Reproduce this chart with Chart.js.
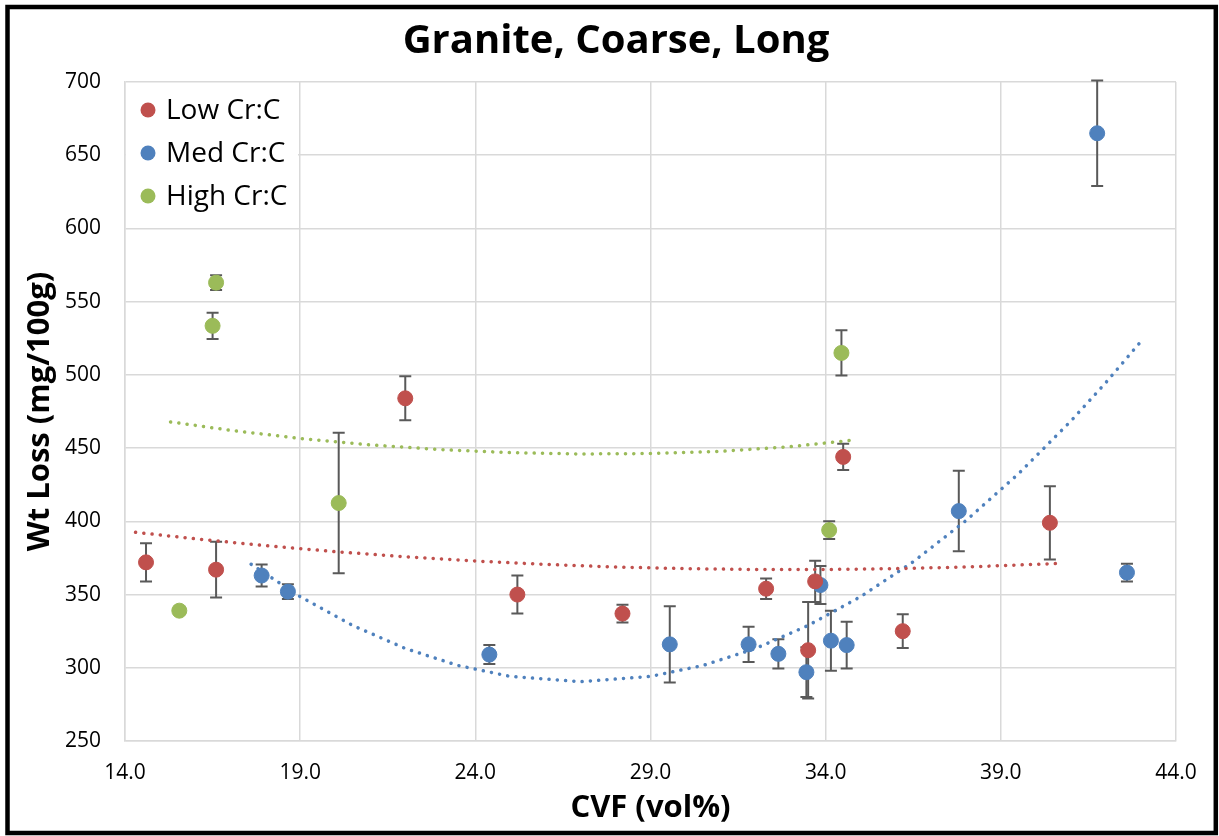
<!DOCTYPE html>
<html>
<head>
<meta charset="utf-8">
<title>Granite, Coarse, Long</title>
<script src="https://cdn.jsdelivr.net/npm/chart.js@4.4.0/dist/chart.umd.min.js"></script>
<style>
  html, body { margin: 0; padding: 0; background: #fff; }
  canvas { display: block; }
</style>
</head>
<body>
<canvas id="grafico" width="1219" height="836"></canvas>
<script>
// series (CVF vol%, wt loss mg/100g, +/- error)
var lowX   = [14.6, 16.6, 22.0, 25.2, 28.2, 32.3, 33.7, 33.5, 34.5, 36.2, 40.4];
var lowY   = [372, 367, 484, 350, 337, 354, 359, 312, 444, 325, 399];
var lowErr = [13, 19, 15, 13, 6, 7, 14, 33, 9, 11.5, 25];

var medX   = [17.9, 18.65, 24.4, 29.55, 31.8, 32.65, 33.45, 33.85, 34.15, 34.6, 37.8, 41.75, 42.6];
var medY   = [363, 352, 309, 316, 316, 309.5, 297, 356.5, 318.5, 315.5, 407, 665, 365];
var medErr = [7.5, 5, 6.5, 26, 12, 10, 17, 13, 20.5, 16, 27.5, 36, 6];

var highX   = [15.55, 16.5, 16.6, 20.1, 34.1, 34.45];
var highY   = [339, 533.5, 563, 412.5, 394, 515];
var highErr = [2, 9, 5, 48, 6, 15.5];

// poly trend lines (points along the curves)
var lowTrendX = [14.3, 16, 18, 20, 22, 24, 26, 28, 30, 32, 34, 36, 38, 40.7];
var lowTrendY = [392.5, 388.1, 383.4, 379.3, 375.8, 372.9, 370.6, 368.8, 367.7, 367.1, 367.1, 367.7, 368.8, 371.3];

var medTrendX = [17.6, 19, 20.5, 22, 23.5, 25, 27, 29, 30.5, 32, 33.5, 35, 36.5, 38, 39.5, 41, 42, 43];
var medTrendY = [370.7, 348.6, 328.9, 313.2, 301.6, 294.1, 290.5, 294.1, 301.6, 313.2, 328.9, 348.6, 372.4, 400.4, 432.4, 468.5, 494.8, 522.9];

var highTrendX = [15.3, 17, 19, 21, 23, 25, 27, 29, 31, 33, 34, 34.8];
var highTrendY = [467.9, 462.2, 456.6, 452.2, 449.0, 446.9, 446.0, 446.3, 447.8, 451.0, 453.5, 455.5];

var xTicks = [14, 19, 24, 29, 34, 39, 44];

var titulo = 'Granite, Coarse, Long';
var nombres = ['Low Cr:C', 'Med Cr:C', 'High Cr:C'];
var colores = ['#C0504D', '#4F81BD', '#9BBB59'];

function puntos(xs, ys){
  var out = [];
  for (var i = 0; i < xs.length; i++) out.push({x: xs[i], y: ys[i]});
  return out;
}

function serie(nombre, color, xs, ys, errs){
  return {
    label: nombre,
    data: puntos(xs, ys),
    errores: errs,
    backgroundColor: color,
    borderColor: color,
    borderWidth: 1,
    pointRadius: 7.5,
    showLine: false,
    order: 1
  };
}

function tendencia(color, xs, ys){
  return {
    label: '',
    data: puntos(xs, ys),
    showLine: true,
    borderColor: color,
    borderWidth: 3.5,
    borderDash: [0.1, 8.2],
    borderCapStyle: 'round',
    pointRadius: 0,
    fill: false,
    order: 0
  };
}

// vertical error bars with caps, under the markers
var barrasError = {
  id: 'barrasError',
  beforeDatasetsDraw: function(chart){
    var ctx = chart.ctx, sx = chart.scales.x, sy = chart.scales.y;
    ctx.save();
    ctx.strokeStyle = '#595959';
    ctx.lineWidth = 2;
    chart.data.datasets.forEach(function(ds){
      if (!ds.errores) return;
      ds.data.forEach(function(p, i){
        var px = sx.getPixelForValue(p.x);
        var y1 = sy.getPixelForValue(p.y + ds.errores[i]);
        var y2 = sy.getPixelForValue(p.y - ds.errores[i]);
        ctx.beginPath();
        ctx.moveTo(px, y1); ctx.lineTo(px, y2);
        ctx.moveTo(px - 6, y1); ctx.lineTo(px + 6, y1);
        ctx.moveTo(px - 6, y2); ctx.lineTo(px + 6, y2);
        ctx.stroke();
      });
    });
    ctx.restore();
  }
};

// legend box in the top-left corner of the plot
var leyenda = {
  id: 'leyenda',
  afterDatasetsDraw: function(chart){
    var ctx = chart.ctx, a = chart.chartArea;
    ctx.save();
    ctx.fillStyle = '#fff';
    ctx.fillRect(a.left + 1, a.top + 1, 172, 143);
    ctx.font = "28px 'Open Sans'";
    ctx.textBaseline = 'middle';
    for (var i = 0; i < nombres.length; i++){
      var cy = a.top + 28 + i * 43;
      ctx.fillStyle = colores[i];
      ctx.beginPath();
      ctx.arc(a.left + 23, cy, 7.5, 0, Math.PI * 2);
      ctx.fill();
      ctx.fillStyle = '#000';
      ctx.fillText(nombres[i], a.left + 41, cy + 1);
    }
    ctx.restore();
  }
};

// white background, title and the black outer frame
var marco = {
  id: 'marco',
  beforeDraw: function(chart){
    var ctx = chart.ctx;
    ctx.save();
    ctx.fillStyle = '#fff';
    ctx.fillRect(0, 0, chart.width, chart.height);
    ctx.restore();
  },
  afterDraw: function(chart){
    var ctx = chart.ctx;
    ctx.save();
    ctx.fillStyle = '#000';
    ctx.font = "bold 40px 'Open Sans'";
    ctx.textAlign = 'center';
    ctx.textBaseline = 'middle';
    ctx.fillText(titulo, 616, 42);
    ctx.strokeStyle = '#000';
    ctx.lineWidth = 4.5;
    ctx.strokeRect(7.5, 7, 1208.3, 826);
    ctx.restore();
  }
};

Chart.defaults.font.family = "'Open Sans', sans-serif";
Chart.defaults.color = '#000';

var ctx = document.getElementById('grafico');
var grafico = new Chart(ctx, {
  type: 'scatter',
  data: {
    datasets: [
      serie(nombres[0], colores[0], lowX, lowY, lowErr),
      serie(nombres[1], colores[1], medX, medY, medErr),
      serie(nombres[2], colores[2], highX, highY, highErr),
      tendencia(colores[0], lowTrendX, lowTrendY),
      tendencia(colores[1], medTrendX, medTrendY),
      tendencia(colores[2], highTrendX, highTrendY)
    ]
  },
  options: {
    responsive: false,
    animation: false,
    layout: { padding: { left: 10, right: 43, top: 82, bottom: 8 } },
    plugins: {
      legend: { display: false },
      tooltip: { enabled: false },
      title: { display: false }
    },
    scales: {
      x: {
        type: 'linear',
        min: 14, max: 44,
        afterBuildTicks: function(scale){
          scale.ticks = xTicks.map(function(v){ return {value: v}; });
        },
        afterFit: function(scale){ scale.height = 87; },
        ticks: {
          font: { size: 21 },
          padding: 19,
          callback: function(v){ return Number(v).toFixed(1); }
        },
        grid: { color: '#d9d9d9', lineWidth: 1.5, drawTicks: false },
        border: { color: '#d9d9d9', width: 1.5 },
        title: {
          display: true,
          text: 'CVF (vol%)',
          font: { size: 31, weight: 'bold' },
          padding: { top: 4, bottom: 1.5 }
        }
      },
      y: {
        min: 250, max: 700,
        afterFit: function(scale){ scale.width = 115; },
        ticks: { stepSize: 50, font: { size: 21 }, padding: 24 },
        grid: { color: '#d9d9d9', lineWidth: 1.5, drawTicks: false },
        border: { color: '#d9d9d9', width: 1.5 },
        title: {
          display: true,
          text: 'Wt Loss (mg/100g)',
          font: { size: 31, weight: 'bold' },
          padding: { top: 12, bottom: 0 }
        }
      }
    }
  },
  plugins: [marco, barrasError, leyenda]
});
</script>
</body>
</html>
